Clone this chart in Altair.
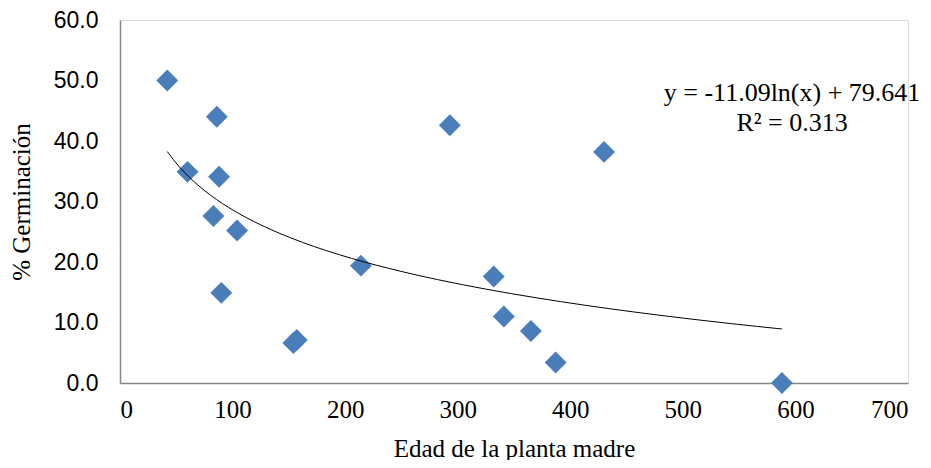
import altair as alt
import pandas as pd

# Data
edad = [42, 86, 60, 88, 83, 104, 90, 154, 157, 214, 293, 332, 341, 365, 387, 430, 588]
germinacion = [50.0, 44.0, 34.9, 34.1, 27.6, 25.2, 14.9, 6.6, 7.1, 19.4, 42.6, 17.6, 11.0, 8.6, 3.4, 38.2, 0.0]

x_ticks = [0, 100, 200, 300, 400, 500, 600, 700]
y_ticks = [0, 10, 20, 30, 40, 50, 60]

eq_text = ["y = -11.09ln(x) + 79.641", "R² = 0.313"]
eq_x = [597, 597]
eq_y = [47.9, 42.9]

df = pd.DataFrame({"x": edad, "y": germinacion})
ann = pd.DataFrame({"t": eq_text, "x": eq_x, "y": eq_y})

W, H = 788, 363

xscale = alt.Scale(domain=[0, 700], nice=False, zero=False)
yscale = alt.Scale(domain=[0, 60], nice=False)

xaxis = alt.Axis(
    values=x_ticks, format="d", grid=False, ticks=False,
    domainColor="#868686", domainWidth=1.5,
    labelFont="Liberation Serif", labelFontSize=25, labelColor="#000000",
    labelPadding=14,
    title="Edad de la planta madre", titleFont="Liberation Serif",
    titleFontSize=25, titleFontWeight="normal", titleColor="#000000",
    titleX=W / 2, titleY=65, titleAlign="center", titleBaseline="middle",
)
yaxis = alt.Axis(
    values=y_ticks, format=".1f", grid=False, ticks=False,
    domainColor="#868686", domainWidth=1.5,
    labelFont="Liberation Sans", labelFontSize=23, labelColor="#000000",
    labelPadding=22,
    title="% Germinación", titleFont="Liberation Serif",
    titleFontSize=25, titleFontWeight="normal", titleColor="#000000",
    titleX=-99, titleY=H / 2, titleAngle=270, titleAlign="center",
    titleBaseline="middle",
)

points = alt.Chart(df).mark_point(
    shape="diamond", filled=True, size=480, color="#4A7EBB", opacity=1
).encode(
    x=alt.X("x:Q", scale=xscale, axis=xaxis),
    y=alt.Y("y:Q", scale=yscale, axis=yaxis),
)

trend = alt.Chart(df).transform_regression(
    "x", "y", method="log"
).mark_line(color="#000000", strokeWidth=1).encode(
    x=alt.X("x:Q", scale=xscale),
    y=alt.Y("y:Q", scale=yscale),
)

text = alt.Chart(ann).mark_text(
    font="Liberation Serif", fontSize=26, color="#000000", align="center",
    baseline="middle",
).encode(
    x=alt.X("x:Q", scale=xscale),
    y=alt.Y("y:Q", scale=yscale),
    text="t:N",
)

chart = alt.layer(points, trend, text).properties(
    width=W, height=H,
    autosize=alt.AutoSizeParams(type="none"),
    padding={"left": 112, "top": 12, "right": 14, "bottom": 77},
).configure_view(stroke=None).configure(background="white")

chart.save("out.html", embed_options={"renderer": "svg", "actions": False})
